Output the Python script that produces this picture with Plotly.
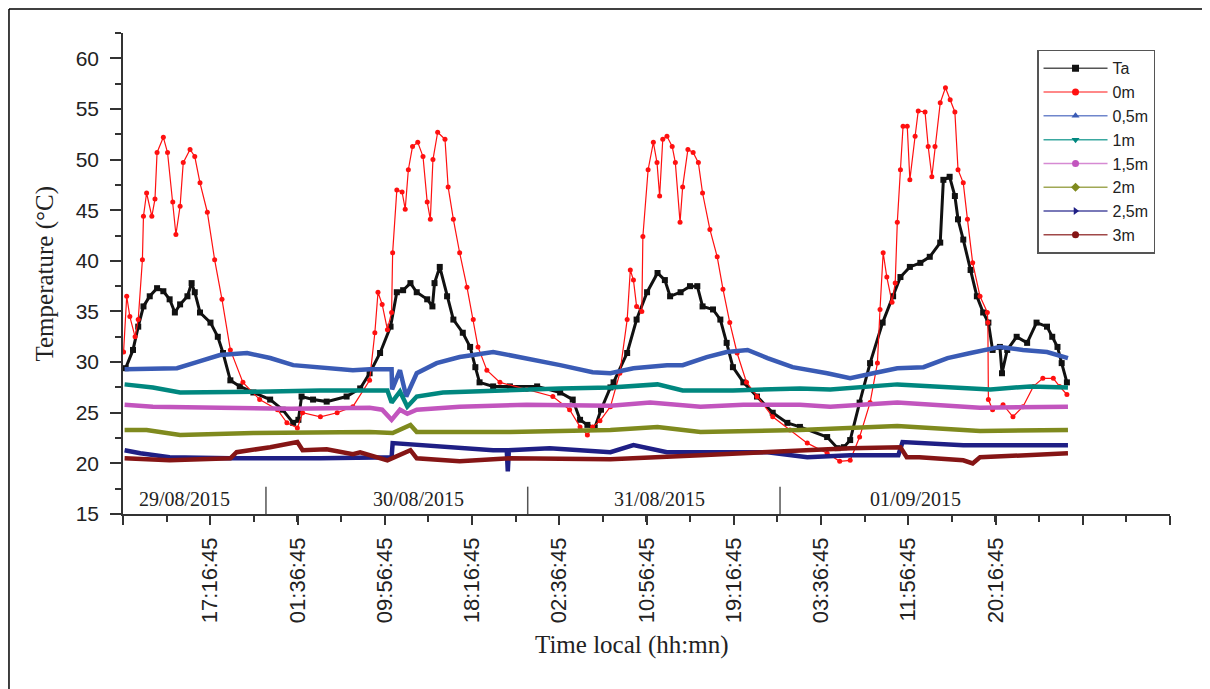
import plotly.graph_objects as go

# Time axis in hours counted from 29/08/2015 00:00
tick_hours = [8.946, 17.279, 25.613, 33.946, 42.279, 50.613, 58.946, 67.279,
              75.613, 83.946, 92.279, 100.613, 108.946]
tick_labels = ['', '17:16:45', '01:36:45', '09:56:45', '18:16:45', '02:36:45',
               '10:56:45', '19:16:45', '03:36:45', '11:56:45', '20:16:45', '', '']

day_labels = ['29/08/2015', '30/08/2015', '31/08/2015', '01/09/2015']
day_centers = [14.8, 37.2, 60.2, 84.6]
day_breaks = [22.6, 47.6, 71.7]

# Ta (air temperature)
ta_t = [9.2, 9.9, 10.4, 10.9, 11.5, 12.2, 12.8, 13.4, 13.9, 14.4, 15.1, 15.5, 15.8, 16.3,
        17.3, 18.0, 18.5, 19.2, 20.1, 21.4, 23.0, 24.2, 25.2, 25.7, 26.0, 27.1, 28.4, 30.3,
        31.6, 32.5, 33.5, 34.5, 35.1, 35.7, 36.4, 37.0, 38.0, 38.5, 38.7, 39.2, 39.9, 40.5,
        41.4, 42.1, 42.6, 43.0, 44.3, 45.9, 48.5, 50.7, 51.9, 52.6, 53.3, 54.0, 54.6, 55.5,
        55.8, 57.1, 58.0, 59.0, 60.0, 60.7, 61.2, 62.2, 63.1, 63.8, 64.3, 65.3, 66.0, 66.6,
        67.2, 68.2, 69.5, 71.0, 72.4, 73.6, 76.2, 77.2, 77.8, 78.4, 79.3, 80.3, 81.5, 82.5,
        83.2, 84.1, 85.1, 86.0, 87.0, 87.3, 87.9, 88.4, 88.7, 89.2, 89.9, 90.5, 91.1, 91.6,
        92.0, 92.7, 92.9, 93.4, 94.3, 95.3, 96.2, 97.2, 97.7, 98.2, 98.6, 99.1]
ta_v = [29.4, 31.2, 33.5, 35.5, 36.5, 37.3, 37.0, 36.2, 34.9, 35.7, 36.5, 37.8, 36.9, 34.9,
        33.9, 32.5, 30.9, 28.2, 27.6, 27.0, 26.3, 25.3, 24.0, 24.3, 26.6, 26.3, 26.1, 26.6,
        27.4, 28.9, 30.9, 33.5, 36.9, 37.1, 37.8, 36.9, 36.2, 35.5, 37.8, 39.4, 36.5, 34.2,
        32.9, 31.5, 29.5, 28.0, 27.6, 27.6, 27.6, 27.0, 26.3, 24.3, 23.8, 23.5, 25.3, 27.5,
        28.0, 30.9, 34.2, 36.9, 38.8, 38.1, 36.5, 36.9, 37.5, 37.5, 35.5, 35.2, 34.2, 31.9,
        29.5, 28.0, 26.6, 25.0, 24.0, 23.6, 22.6, 21.5, 21.6, 22.3, 26.0, 29.9, 33.9, 36.5,
        38.4, 39.4, 39.8, 40.4, 41.8, 48.0, 48.3, 46.4, 44.1, 42.1, 39.1, 36.5, 34.9, 33.9,
        31.2, 31.5, 28.9, 31.2, 32.5, 31.9, 33.9, 33.5, 32.5, 31.5, 29.9, 28.0]

# 0m (surface)
s0_t = [9.0, 9.3, 9.6, 10.1, 10.4, 10.8, 10.9, 11.2, 11.7, 12.0, 12.2, 12.8, 13.2, 13.7,
        14.0, 14.4, 14.7, 15.35, 15.8, 16.3, 17.0, 17.7, 18.4, 19.2, 20.4, 22.0, 23.7, 24.6,
        25.6, 26.1, 27.8, 29.4, 30.9, 32.5, 33.0, 33.3, 33.7, 34.2, 34.6, 34.7, 35.1, 35.6,
        35.9, 36.2, 36.6, 37.1, 37.6, 38.0, 38.3, 38.55, 39.0, 39.7, 40.0, 40.5, 41.1, 41.8,
        42.4, 42.85, 43.7, 44.95, 47.5, 50.0, 51.6, 52.6, 53.3, 53.8, 54.5, 55.5, 56.4, 57.1,
        57.4, 57.7, 58.0, 58.5, 58.6, 59.1, 59.6, 59.95, 60.2, 60.5, 60.9, 61.4, 61.7, 62.15,
        62.4, 62.9, 63.4, 63.9, 64.3, 65.0, 65.7, 66.25, 66.9, 67.6, 68.5, 69.5, 71.0, 72.65,
        74.3, 76.2, 77.4, 78.4, 79.3, 80.3, 81.0, 81.25, 81.55, 81.9, 82.4, 82.7, 82.9, 83.2,
        83.45, 83.85, 84.1, 84.6, 84.9, 85.55, 85.85, 86.2, 86.5, 87.0, 87.5, 87.95, 88.4,
        88.7, 89.2, 89.6, 90.1, 90.8, 91.5, 91.55, 91.6, 92.0, 93.0, 93.95, 94.9, 95.9, 96.8,
        97.8, 98.4, 99.1]
s0_v = [31.0, 36.5, 34.5, 32.5, 34.2, 40.1, 44.4, 46.7, 44.4, 46.1, 50.7, 52.2, 50.7, 45.8,
        42.6, 45.4, 49.7, 51.0, 50.3, 47.7, 44.8, 40.1, 36.2, 31.2, 28.0, 26.3, 25.3, 24.0,
        23.5, 25.0, 24.6, 25.0, 25.6, 28.2, 32.9, 36.9, 35.7, 33.2, 34.9, 40.8, 47.0, 46.8,
        45.1, 49.0, 51.3, 51.7, 50.3, 45.8, 44.1, 50.0, 52.7, 52.0, 47.3, 44.1, 40.8, 37.4,
        34.2, 31.5, 29.2, 28.0, 27.3, 26.6, 25.3, 23.6, 22.8, 23.6, 24.2, 25.6, 28.9, 34.2,
        39.1, 38.1, 35.5, 35.0, 42.4, 49.0, 51.7, 49.7, 46.4, 52.0, 52.3, 51.3, 49.7, 43.8,
        47.3, 51.0, 50.7, 49.7, 46.7, 43.1, 40.4, 37.2, 33.9, 30.9, 28.0, 26.6, 24.6, 23.3,
        22.0, 21.0, 20.2, 20.3, 22.6, 26.0, 29.9, 35.2, 40.8, 38.4, 35.9, 37.8, 43.8, 49.0,
        53.3, 53.3, 48.0, 52.3, 54.8, 54.7, 51.3, 48.3, 51.3, 55.6, 57.1, 55.9, 54.7,
        49.0, 47.7, 44.1, 39.8, 36.5, 34.9, 33.9, 26.3, 25.3, 25.8, 24.6, 25.6, 27.6, 28.4,
        28.4, 27.6, 26.8]

# 0,5m
s05_t = [9.1, 11.7, 14.1, 16.0, 18.2, 20.8, 23.0, 25.2, 27.8, 30.9, 32.5, 34.6, 34.65, 35.4,
         36.0, 37.0, 38.9, 41.1, 44.3, 47.5, 50.7, 53.8, 55.5, 57.7, 60.9, 62.4, 64.7, 66.6,
         68.6, 70.5, 72.9, 76.2, 78.4, 80.6, 82.9, 85.4, 87.7, 89.9, 92.7, 94.9, 97.2, 99.2]
s05_v = [29.3, 29.4, 29.4, 30.0, 30.7, 30.9, 30.4, 29.7, 29.5, 29.2, 29.3, 29.3, 27.3, 29.2,
         26.6, 28.9, 29.9, 30.5, 31.0, 30.4, 29.7, 29.0, 28.9, 29.4, 29.7, 29.7, 30.5, 31.0,
         31.2, 30.4, 29.5, 28.9, 28.4, 28.9, 29.4, 29.5, 30.4, 30.9, 31.5, 31.2, 31.0, 30.4]

# 1m
s1_t = [9.1, 11.8, 14.4, 18.2, 23.0, 27.8, 31.6, 34.2, 34.6, 35.4, 36.1, 37.0, 39.5, 44.3,
        50.7, 55.5, 60.0, 62.4, 67.2, 73.6, 76.5, 82.9, 87.7, 91.8, 95.6, 99.2]
s1_v = [27.8, 27.5, 27.0, 27.0, 27.1, 27.2, 27.2, 27.2, 26.0, 27.1, 25.6, 26.6, 27.0, 27.2,
        27.4, 27.5, 27.8, 27.2, 27.2, 27.4, 27.3, 27.8, 27.5, 27.3, 27.6, 27.5]

# 1,5m
s15_t = [9.1, 11.8, 18.2, 25.0, 32.5, 33.7, 34.6, 35.4, 36.1, 37.0, 41.1, 47.5, 55.5, 59.3,
         64.1, 68.2, 73.6, 76.5, 82.9, 90.8, 99.2]
s15_v = [25.8, 25.6, 25.5, 25.4, 25.5, 25.3, 24.3, 25.3, 24.9, 25.3, 25.6, 25.8, 25.7, 26.0,
         25.6, 25.8, 25.8, 25.6, 26.0, 25.5, 25.6]

# 2m
s2_t = [9.1, 11.2, 14.4, 21.4, 32.5, 34.7, 36.4, 37.0, 45.9, 55.5, 60.0, 64.1, 73.6, 78.4,
        82.9, 90.8, 99.2]
s2_v = [23.3, 23.3, 22.8, 23.0, 23.1, 23.0, 23.8, 23.1, 23.1, 23.3, 23.6, 23.1, 23.3, 23.5,
        23.7, 23.2, 23.3]

# 2,5m
s25_t = [9.1, 10.6, 13.4, 19.2, 27.8, 31.6, 34.6, 34.7, 41.1, 44.3, 45.6, 45.7, 45.8, 49.7,
         55.5, 57.7, 60.9, 70.5, 74.3, 78.4, 83.0, 83.4, 89.2, 99.2]
s25_v = [21.3, 21.0, 20.6, 20.5, 20.5, 20.6, 20.6, 22.0, 21.5, 21.3, 21.3, 19.2, 21.3, 21.5,
         21.1, 21.8, 21.1, 21.1, 20.6, 20.8, 20.8, 22.1, 21.8, 21.8]

# 3m
s3_t = [9.1, 13.4, 19.2, 19.8, 23.0, 25.6, 26.1, 28.4, 30.9, 31.6, 34.2, 36.4, 37.0, 41.1,
        45.9, 55.5, 64.1, 73.6, 78.4, 83.2, 83.8, 85.0, 89.2, 90.1, 90.8, 99.2]
s3_v = [20.5, 20.3, 20.5, 21.1, 21.6, 22.1, 21.3, 21.4, 20.9, 21.1, 20.3, 21.3, 20.5, 20.2,
        20.5, 20.4, 20.8, 21.3, 21.5, 21.6, 20.6, 20.6, 20.3, 20.0, 20.6, 21.0]

names = ['Ta', '0m', '0,5m', '1m', '1,5m', '2m', '2,5m', '3m']

fig = go.Figure()

# series: (times, values, colour, legend line colour, symbol)
series = [
    (ta_t, ta_v, '#111111', '#555555', 'square'),
    (s0_t, s0_v, '#FF1010', '#FF6060', 'circle'),
    (s05_t, s05_v, '#3A5BB5', '#6F86CC', 'triangle-up'),
    (s1_t, s1_v, '#00877F', '#3AA8A0', 'triangle-down'),
    (s15_t, s15_v, '#C255BE', '#D68AD3', 'circle'),
    (s2_t, s2_v, '#7F8A1E', '#A0A855', 'diamond'),
    (s25_t, s25_v, '#1F1F85', '#4C4CA0', 'triangle-right'),
    (s3_t, s3_v, '#851515', '#A04848', 'circle'),
]

for i, (t, v, col, lcol, sym) in enumerate(series):
    if i == 0:
        fig.add_trace(go.Scatter(x=t, y=v, mode='lines+markers', showlegend=False,
                                 line=dict(color=col, width=3),
                                 marker=dict(symbol='square', size=6, color=col)))
    elif i == 1:
        fig.add_trace(go.Scatter(x=t, y=v, mode='lines+markers', showlegend=False,
                                 line=dict(color=col, width=1.2),
                                 marker=dict(symbol='circle', size=5, color=col)))
    else:
        fig.add_trace(go.Scatter(x=t, y=v, mode='lines', showlegend=False,
                                 line=dict(color=col, width=4.5)))

# legend-only entries with thin lines and a marker
for (t, v, col, lcol, sym), name in zip(series, names):
    fig.add_trace(go.Scatter(x=[None], y=[None], mode='lines+markers', name=name,
                             line=dict(color=lcol, width=1.5),
                             marker=dict(symbol=sym, size=7, color=col)))

# day separators and day labels
for b in day_breaks:
    fig.add_shape(type='line', xref='x', yref='y', x0=b, x1=b, y0=15, y1=17.7,
                  line=dict(color='#555555', width=1.5))
for lab, c in zip(day_labels, day_centers):
    fig.add_annotation(x=c, y=16.5, xref='x', yref='y', text=lab, showarrow=False,
                       xanchor='center', yanchor='middle',
                       font=dict(family='Liberation Serif', size=20, color='#222222'))

# axis titles
fig.add_annotation(x=0.486, y=-0.272, xref='paper', yref='paper', text='Time local (hh:mn)',
                   showarrow=False, xanchor='center', yanchor='middle',
                   font=dict(family='Liberation Serif', size=25, color='#222222'))
fig.add_annotation(x=-0.0745, y=0.5, xref='paper', yref='paper', text='Temperature (°C)',
                   textangle=-90, showarrow=False, xanchor='center', yanchor='middle',
                   font=dict(family='Liberation Serif', size=25, color='#222222'))

# outer frame (top and left edges of the figure)
fig.add_shape(type='line', xref='paper', yref='paper', x0=-0.1089, x1=1.05, y0=1.0499, y1=1.0499,
              line=dict(color='black', width=1.5))
fig.add_shape(type='line', xref='paper', yref='paper', x0=-0.1089, x1=-0.1089, y0=-0.4, y1=1.0499,
              line=dict(color='black', width=1.5))

fig.update_xaxes(range=[8.946, 108.946], tickmode='array', tickvals=tick_hours,
                 ticktext=tick_labels, tickangle=-90, ticks='outside', ticklen=9,
                 tickwidth=1.5, tickcolor='#333333', showline=True, linecolor='#333333',
                 linewidth=1.5, showgrid=False, zeroline=False, ticklabelstandoff=4,
                 tickfont=dict(family='Liberation Sans', size=22, color='#222222'),
                 minor=dict(tick0=8.946, dtick=4.1665, ticks='outside', ticklen=6,
                            tickwidth=1.5, tickcolor='#333333', showgrid=False))
fig.update_yaxes(range=[15, 62.5], tickmode='linear', tick0=15, dtick=5, ticks='outside',
                 ticklen=11, tickwidth=1.5, tickcolor='#333333', showline=True,
                 linecolor='#333333', linewidth=1.5, showgrid=False, zeroline=False,
                 ticklabelstandoff=7,
                 tickfont=dict(family='Liberation Sans', size=21, color='#222222'),
                 minor=dict(dtick=2.5, ticks='outside', ticklen=6, tickwidth=1.5,
                            tickcolor='#333333', showgrid=False))

fig.update_layout(
    width=1210, height=689,
    margin=dict(l=115, r=48, t=25, b=183),
    paper_bgcolor='white', plot_bgcolor='white',
    legend=dict(x=0.873, y=0.965, xanchor='left', yanchor='top',
                bordercolor='#555555', borderwidth=1.5, bgcolor='white',
                font=dict(family='Liberation Sans', size=16, color='#222222'),
                tracegroupgap=0, itemwidth=64),
)

fig.write_html("out.html")
